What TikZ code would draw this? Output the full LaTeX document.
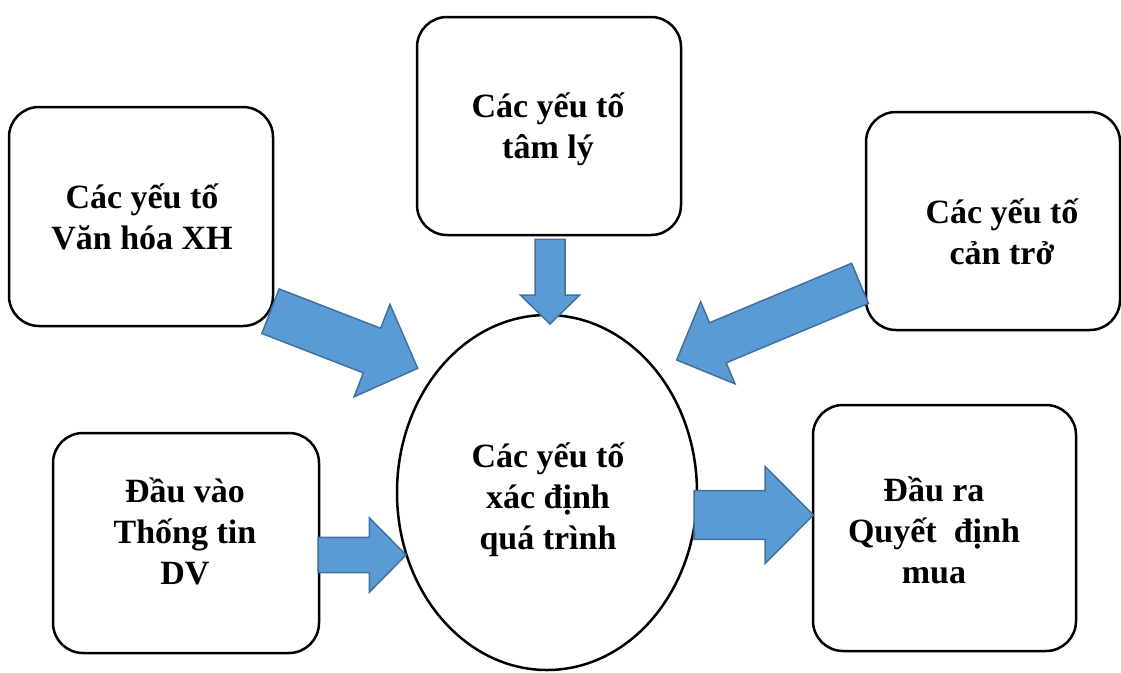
\documentclass[tikz,border=0pt]{standalone}
\usepackage{fontspec}
\setmainfont{Liberation Serif}
\usetikzlibrary{shapes.geometric,calc}

\definecolor{arrowfill}{HTML}{5B9BD5}
\definecolor{arrowline}{HTML}{41719C}

\tikzset{
  factorbox/.style={draw=black, line width=2.5pt, rounded corners=30pt,
    fill=white, inner sep=0pt},
  coreellipse/.style={ellipse, draw=black, line width=2.5pt, fill=white,
    inner sep=0pt, minimum width=300pt, minimum height=355pt},
  labeltext/.style={inner sep=0pt, font=\fontsize{34}{41}\selectfont\bfseries},
  flowarrow/.style={draw=arrowline, fill=arrowfill, line width=1.5pt}
}

% block arrow: tail, tip, shaft half width, head half width, head length
\newcommand\blockarrow[5]{%
  \coordinate (hb) at ($(#2)!#5!(#1)$);
  \draw[flowarrow] ($(#1)!#3!90:(#2)$) -- ($(hb)!#3!90:(#2)$)
    -- ($(hb)!#4!90:(#2)$) -- (#2) -- ($(hb)!#4!-90:(#2)$)
    -- ($(hb)!#3!-90:(#2)$) -- ($(#1)!#3!-90:(#2)$) -- cycle;
}

\begin{document}
\begin{tikzpicture}[x=1pt, y=-1pt]
  \useasboundingbox (0,0) rectangle (1121,672);

  % factor boxes
  \node[factorbox, minimum width=264pt, minimum height=219pt] (culture) at (141,216.5) {};
  \node[factorbox, minimum width=264pt, minimum height=218pt] (psych) at (549,126) {};
  \node[factorbox, minimum width=254pt, minimum height=218pt] (barrier) at (993,221) {};
  \node[factorbox, minimum width=266pt, minimum height=220pt] (input) at (186,543) {};
  \node[factorbox, minimum width=263pt, minimum height=246pt] (output) at (944.5,528) {};

  % central process
  \node[coreellipse] (core) at (547,492.5) {};

  % labels
  \node[labeltext] (cultureT) at (142,220.3) {\begin{tabular}{@{}c@{}}Các yếu tố\\Văn hóa XH\end{tabular}};
  \node[labeltext] (psychT) at (548,129.8) {\begin{tabular}{@{}c@{}}Các yếu tố\\tâm lý\end{tabular}};
  \node[labeltext] (barrierT) at (1002,235.8) {\begin{tabular}{@{}c@{}}Các yếu tố\\cản trở\end{tabular}};
  \node[labeltext] (inputT) at (185,534.8) {\begin{tabular}{@{}c@{}}Đầu vào\\Thống tin\\DV\end{tabular}};
  \node[labeltext] (outputT) at (934,533.8) {\begin{tabular}{@{}c@{}}Đầu ra\\Quyết\ \ định\\mua\end{tabular}};
  \node[labeltext] (coreT) at (548,499.8) {\begin{tabular}{@{}c@{}}Các yếu tố\\xác định\\quá trình\end{tabular}};

  % arrow ends
  \coordinate (cultureOut) at (270.5,311.2);
  \coordinate (cultureIn)  at (417.7,368.3);
  \coordinate (psychOut)   at (550,239.3);
  \coordinate (psychIn)    at (550,324);
  \coordinate (barrierOut) at (860,283.3);
  \coordinate (barrierIn)  at (676.7,360);
  \coordinate (inputOut)   at (318,555);
  \coordinate (inputIn)    at (406,555);
  \coordinate (coreOut)    at (694,515);
  \coordinate (outputIn)   at (813.3,515);

  % block arrows
  \blockarrow{cultureOut}{cultureIn}{23.9pt}{49.6pt}{49pt}
  \blockarrow{psychOut}{psychIn}{15pt}{29.7pt}{29pt}
  \blockarrow{barrierOut}{barrierIn}{21.7pt}{44.5pt}{44.6pt}
  \blockarrow{inputOut}{inputIn}{17.7pt}{37.2pt}{36.7pt}
  \blockarrow{coreOut}{outputIn}{24.3pt}{48.6pt}{48.3pt}
\end{tikzpicture}
\end{document}
